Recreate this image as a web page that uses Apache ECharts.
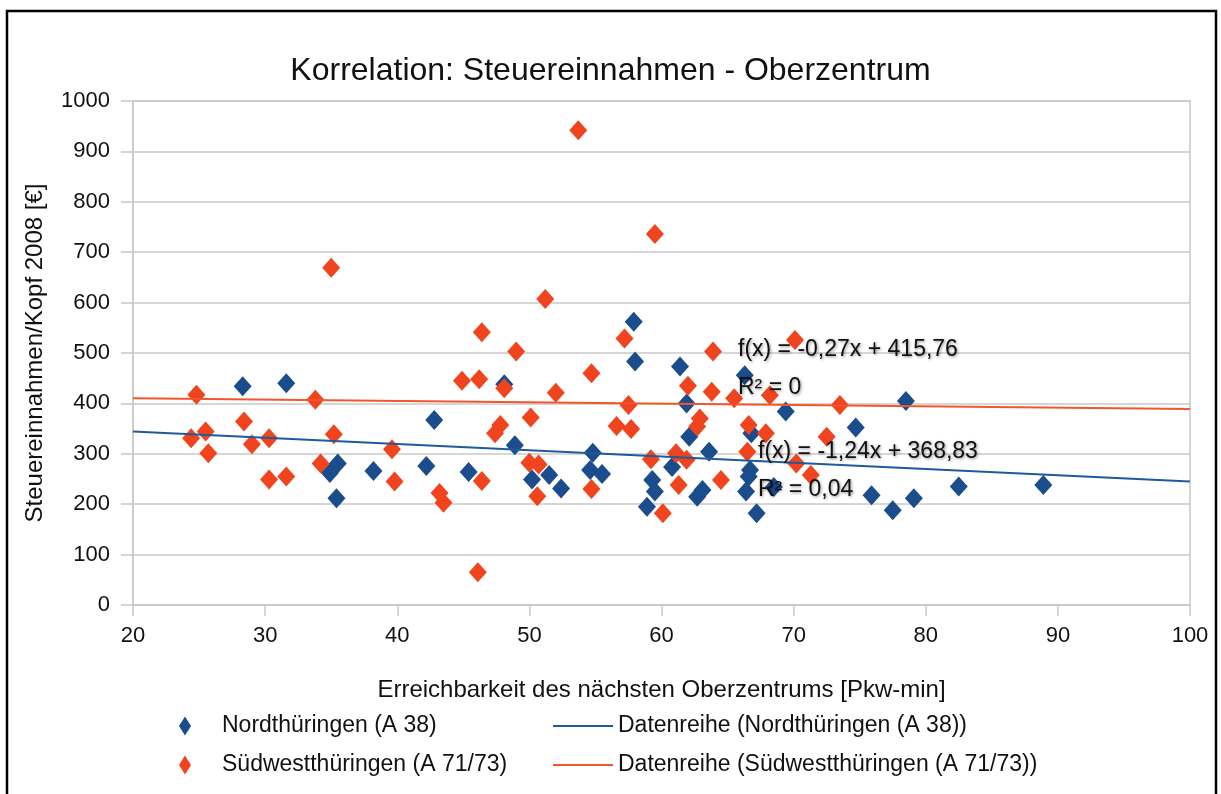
<!DOCTYPE html>
<html>
<head>
<meta charset="utf-8">
<script src="https://cdn.jsdelivr.net/npm/echarts@6/dist/echarts.min.js"></script>
<style>
html,body{margin:0;padding:0;background:#fff;}
#chart{width:1221px;height:794px;}
</style>
</head>
<body>
<div id="chart"></div>
<script>
// ---- data ----
const titleText = 'Korrelation: Steuereinnahmen - Oberzentrum';
const xAxisName = 'Erreichbarkeit des nächsten Oberzentrums [Pkw-min]';
const yAxisName = 'Steuereinnahmen/Kopf 2008 [€]';
const seriesNames = ['Nordthüringen (A 38)', 'Südwestthüringen (A 71/73)'];
const trendNames = ['Datenreihe (Nordthüringen (A 38))', 'Datenreihe (Südwestthüringen (A 71/73))'];

const nordPoints = [
  [28.3,434],[31.6,440],[34.9,262],[35.5,281],[35.4,212],[38.2,266],[42.2,276],[42.8,367],
  [45.4,264],[48.1,438],[48.9,317],[50.2,249],[51.5,258],[52.4,231],[54.8,302],[54.6,268],
  [55.5,260],[57.9,562],[58.0,483],[61.4,473],[61.9,400],[62.1,334],[63.6,304],[60.8,274],
  [59.3,248],[59.5,225],[58.9,195],[62.7,215],[63.1,228],[66.3,456],[66.8,341],[66.7,268],
  [66.6,255],[66.4,225],[67.2,182],[68.5,234],[69.4,384],[74.7,352],[78.5,405],[75.9,218],
  [77.5,188],[79.1,212],[82.5,235],[88.9,238]
];
const suedPoints = [
  [24.8,417],[24.4,331],[25.5,344],[25.7,301],[28.4,364],[29.0,319],[30.3,331],[30.3,249],
  [31.6,255],[33.8,407],[35.2,339],[34.2,281],[35.0,669],[39.6,309],[39.8,245],[43.2,222],
  [43.5,203],[44.9,445],[46.2,448],[46.4,541],[46.1,65],[46.4,246],[47.4,341],[47.8,357],
  [48.1,430],[49.0,503],[50.1,372],[50.0,282],[50.7,279],[50.6,216],[51.2,607],[52.0,421],
  [53.7,942],[54.7,460],[54.7,230],[56.6,355],[57.2,529],[57.5,397],[57.7,349],[59.2,289],
  [59.5,736],[60.1,182],[61.1,301],[61.9,288],[61.3,238],[62.0,435],[62.7,354],[62.9,370],
  [63.8,423],[63.9,503],[64.5,248],[65.5,410],[66.5,304],[66.6,357],[67.9,341],[68.2,416],
  [70.1,526],[70.2,281],[71.3,258],[72.5,334],[73.5,397]
];
// regression equations shown in chart: f(x) = slope*x + intercept
const nordTrend = {slope: -1.24, intercept: 368.83, r2: '0,04'};
const suedTrend = {slope: -0.27, intercept: 415.76, r2: '0'};
const trendRange = [20, 100];
const xTicks = {min: 20, max: 100, interval: 10};
const yTicks = {min: 0, max: 1000, interval: 100};

// ---- build ----
function trendLine(t){ return trendRange.map(x => [x, t.slope*x + t.intercept]); }
function fmt(v){ return v.toFixed(2).replace('.', ','); }
function eqText(t){ return 'f(x) = ' + fmt(t.slope) + 'x + ' + fmt(t.intercept); }

const BLUE = '#1b4c8c', RED = '#f0441e', BLUE_L = '#1f5a9c', RED_L = '#f4552c';
const GRID = '#c8c8c8';
const FONT = 'Liberation Sans, Arial, sans-serif';

const chart = echarts.init(document.getElementById('chart'));
const shadowText = {
  fontSize: 23, fontFamily: FONT, fill: '#111',
  textShadowColor: 'rgba(0,0,0,0.45)', textShadowBlur: 3, textShadowOffsetX: 1, textShadowOffsetY: 1
};
chart.setOption({
  animation: false,
  backgroundColor: '#fff',
  title: {
    text: titleText, left: 'center', top: 50,
    textStyle: {fontSize: 32, fontWeight: 'normal', color: '#111', fontFamily: FONT}
  },
  grid: {left: 133, right: 31, top: 101, bottom: 189, show: true, borderColor: GRID, borderWidth: 1.5},
  xAxis: {
    type: 'value', min: xTicks.min, max: xTicks.max, interval: xTicks.interval,
    name: xAxisName, nameLocation: 'middle', nameGap: 73,
    nameTextStyle: {fontSize: 24, color: '#111', fontFamily: FONT},
    axisLine: {show: true, lineStyle: {color: GRID, width: 1.5}},
    axisTick: {show: true, length: 11, lineStyle: {color: GRID, width: 1.5}},
    axisLabel: {fontSize: 22, color: '#111', margin: 20, fontFamily: FONT, formatter: v => String(v)},
    splitLine: {show: false}
  },
  yAxis: {
    type: 'value', min: yTicks.min, max: yTicks.max, interval: yTicks.interval,
    name: yAxisName, nameLocation: 'middle', nameGap: 86,
    nameTextStyle: {fontSize: 24, color: '#111', fontFamily: FONT},
    axisLine: {show: true, lineStyle: {color: GRID, width: 1.5}},
    axisTick: {show: true, length: 12, lineStyle: {color: GRID, width: 1.5}},
    axisLabel: {fontSize: 22, color: '#111', margin: 23, fontFamily: FONT, formatter: v => String(v)},
    splitLine: {show: true, lineStyle: {color: GRID, width: 1.5}}
  },
  legend: [
    {
      data: seriesNames.map(n => ({name: n, icon: 'diamond'})),
      orient: 'vertical', left: 179, top: 714, padding: 0, itemWidth: 12, itemHeight: 19, itemGap: 15,
      textStyle: {fontSize: 23, color: '#111', fontFamily: FONT, lineHeight: 24, padding: [0,0,0,26]}
    },
    {
      data: trendNames.map(n => ({name: n, icon: 'rect'})),
      orient: 'vertical', left: 553, top: 714, padding: 0, itemWidth: 60, itemHeight: 2, itemGap: 15,
      textStyle: {fontSize: 23, color: '#111', fontFamily: FONT, lineHeight: 24, padding: [0,0,0,0]}
    }
  ],
  series: [
    {name: trendNames[0], type: 'line', data: trendLine(nordTrend), showSymbol: false, z: 3,
     lineStyle: {color: BLUE_L, width: 2}, itemStyle: {color: BLUE_L}},
    {name: trendNames[1], type: 'line', data: trendLine(suedTrend), showSymbol: false, z: 3,
     lineStyle: {color: RED_L, width: 2}, itemStyle: {color: RED_L}},
    {name: seriesNames[0], type: 'scatter', data: nordPoints, symbol: 'diamond', symbolSize: [18, 20], z: 2,
     itemStyle: {color: BLUE, opacity: 1}},
    {name: seriesNames[1], type: 'scatter', data: suedPoints, symbol: 'diamond', symbolSize: [18, 20], z: 2,
     itemStyle: {color: RED, opacity: 1}}
  ],
  graphic: [
    {type: 'rect', shape: {x: 7, y: 11, width: 1209, height: 820}, style: {fill: 'none', stroke: '#000', lineWidth: 2.5}, silent: true},
    {type: 'text', left: 738, top: 338, z: 100, style: Object.assign({text: eqText(suedTrend)}, shadowText)},
    {type: 'text', left: 738, top: 376, z: 100, style: Object.assign({text: 'R² = ' + suedTrend.r2}, shadowText)},
    {type: 'text', left: 758, top: 440, z: 100, style: Object.assign({text: eqText(nordTrend)}, shadowText)},
    {type: 'text', left: 758, top: 478, z: 100, style: Object.assign({text: 'R² = ' + nordTrend.r2}, shadowText)}
  ]
});
</script>
</body>
</html>
